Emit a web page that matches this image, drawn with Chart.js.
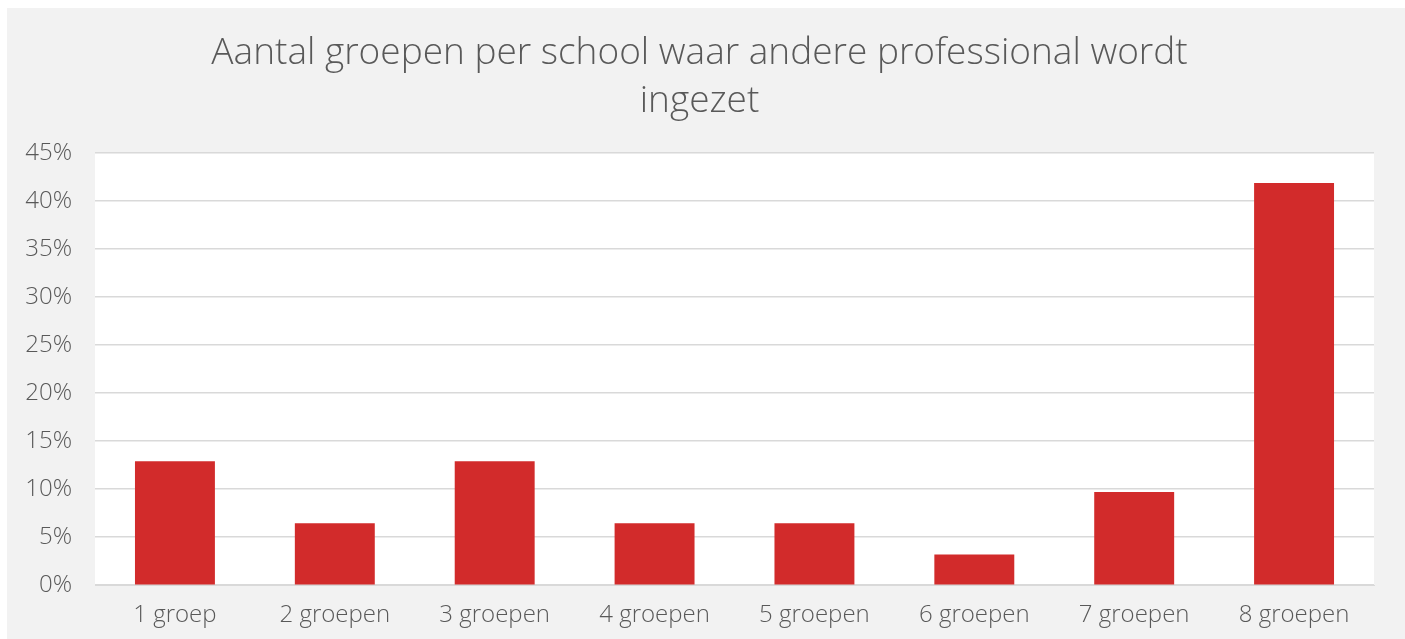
<!DOCTYPE html>
<html>
<head>
<meta charset="utf-8">
<script src="https://cdn.jsdelivr.net/npm/chart.js@4"></script>
<style>
  html, body { margin: 0; padding: 0; background: #fff; }
  #wrap { position: absolute; left: 7px; top: 8px; width: 1398px; height: 631px; background: #f2f2f2; }
</style>
</head>
<body>
<div id="wrap"><canvas id="grafiek"></canvas></div>
<script>
const categorieen = ['1 groep', '2 groepen', '3 groepen', '4 groepen', '5 groepen', '6 groepen', '7 groepen', '8 groepen'];
const percentages = [12.9, 6.45, 12.9, 6.45, 6.45, 3.2, 9.7, 41.9];
const titelRegels = ['Aantal groepen per school waar andere professional wordt', 'ingezet'];

// witte achtergrond voor het plotgebied
const plotAchtergrond = {
  id: 'plotAchtergrond',
  beforeDraw(chart) {
    const { ctx, chartArea } = chart;
    ctx.save();
    ctx.fillStyle = '#ffffff';
    ctx.fillRect(chartArea.left, chartArea.top, chartArea.right - chartArea.left, chartArea.bottom - chartArea.top);
    ctx.restore();
  }
};

const fontFam = '"Open Sans", sans-serif';

new Chart(document.getElementById('grafiek'), {
  type: 'bar',
  data: {
    labels: categorieen,
    datasets: [{
      data: percentages,
      backgroundColor: '#d22b2b',
      barPercentage: 0.5,
      categoryPercentage: 1
    }]
  },
  options: {
    responsive: true,
    maintainAspectRatio: false,
    animation: false,
    layout: { padding: { left: 18, right: 31, top: 21, bottom: 1 } },
    plugins: {
      legend: { display: false },
      tooltip: { enabled: false },
      title: {
        display: true,
        text: titelRegels,
        color: '#595959',
        font: { family: fontFam, size: 37, weight: 300, lineHeight: 1.3 },
        padding: { top: 0, bottom: 28 }
      }
    },
    scales: {
      x: {
        grid: { display: false },
        border: { color: '#d9d9d9', width: 1 },
        ticks: { color: '#595959', font: { family: fontFam, size: 24, weight: 300 }, padding: 8 }
      },
      y: {
        min: 0,
        max: 45,
        grid: { color: '#d9d9d9', lineWidth: 1.5, drawTicks: false },
        border: { display: false },
        afterFit: s => { s.width = 70; },
        ticks: {
          stepSize: 5,
          color: '#595959',
          font: { family: fontFam, size: 24, weight: 300 },
          padding: 23,
          callback: v => v + '%'
        }
      }
    }
  },
  plugins: [plotAchtergrond]
});
</script>
</body>
</html>
